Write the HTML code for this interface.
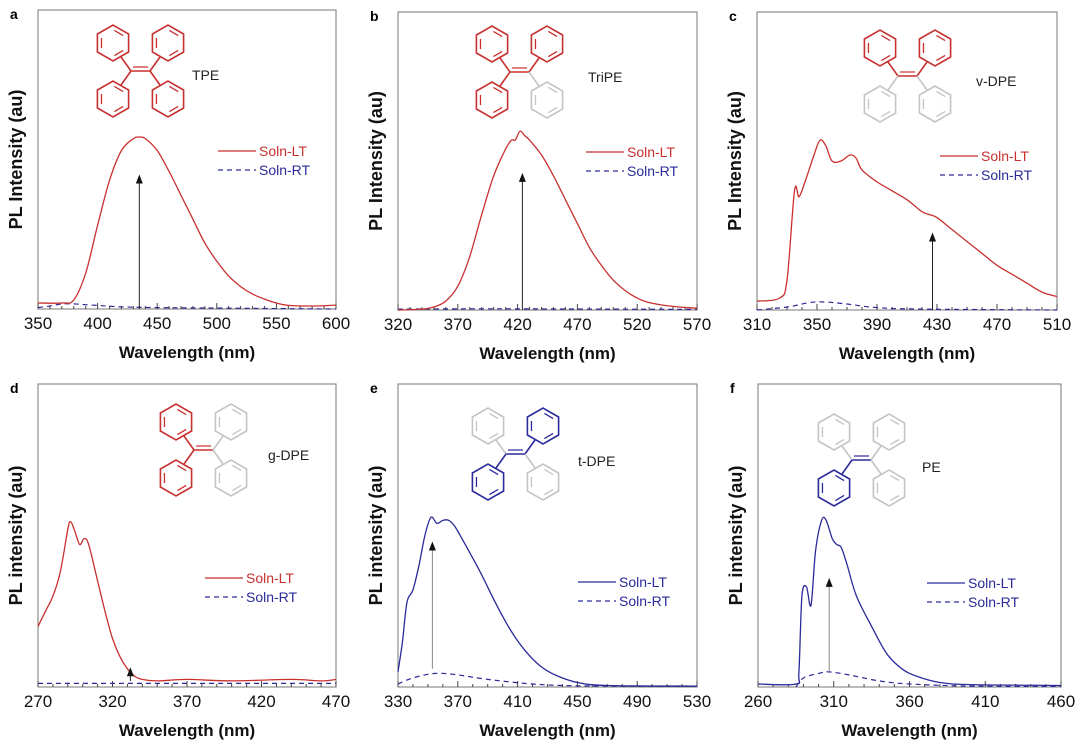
<!DOCTYPE html>
<html><head><meta charset="utf-8"><style>
html,body{margin:0;padding:0;background:#fff;}
svg{display:block;font-family:"Liberation Sans",sans-serif;}
</style></head><body>
<svg id="fig" width="1080" height="749" viewBox="0 0 1080 749"></svg>
<script>
// ---- data (x in nm, y as fraction of axis height) ----
const aLTx=[350,370,380,390,400,410,420,430,435,440,450,460,470,480,490,500,510,520,530,540,550,560,580,600];
const aLTy=[0.02,0.02,0.03,0.12,0.28,0.43,0.53,0.57,0.575,0.57,0.53,0.46,0.38,0.30,0.22,0.16,0.11,0.075,0.05,0.033,0.02,0.012,0.01,0.013];
const aRTx=[350,360,370,380,400,430,500,600];
const aRTy=[0.005,0.01,0.017,0.017,0.012,0.006,0.003,0.0];
const bLTx=[320,340,350,360,370,380,390,400,410,415,418,422,426,430,440,450,460,470,480,490,500,510,520,530,550,570];
const bLTy=[0.0,0.003,0.01,0.03,0.08,0.18,0.32,0.45,0.54,0.57,0.57,0.6,0.585,0.57,0.52,0.45,0.37,0.29,0.21,0.15,0.10,0.065,0.04,0.025,0.012,0.006];
const bRTx=[320,400,570];
const bRTy=[0.003,0.004,0.002];
const cLTx=[310,325,330,335,338,342,348,352,356,360,366,372,376,380,390,400,410,420,425,430,440,450,460,470,480,490,500,510];
const cLTy=[0.03,0.04,0.1,0.4,0.38,0.43,0.52,0.57,0.55,0.5,0.5,0.52,0.51,0.47,0.43,0.40,0.37,0.33,0.32,0.31,0.27,0.23,0.19,0.15,0.12,0.09,0.06,0.045];
const cRTx=[310,330,345,355,370,390,420,510];
const cRTy=[0.0,0.01,0.025,0.027,0.02,0.008,0.003,0.0];
const dLTx=[270,275,280,285,290,292,295,298,301,304,310,315,320,325,330,335,340,350,370,400,440,460,470];
const dLTy=[0.2,0.25,0.3,0.38,0.52,0.545,0.51,0.47,0.49,0.47,0.35,0.25,0.16,0.1,0.06,0.035,0.025,0.02,0.025,0.02,0.025,0.02,0.025];
const dRTx=[270,470];
const dRTy=[0.012,0.012];
const eLTx=[330,333,336,340,344,348,352,356,360,364,368,375,385,395,405,415,425,435,450,470,530];
const eLTy=[0.05,0.15,0.28,0.32,0.4,0.5,0.56,0.54,0.55,0.55,0.53,0.47,0.38,0.28,0.19,0.12,0.07,0.04,0.015,0.005,0.003];
const eRTx=[330,340,355,370,390,420,450,530];
const eRTy=[0.01,0.03,0.045,0.04,0.025,0.01,0.004,0.002];
const fLTx=[260,285,287,289,292,295,298,302,305,309,312,315,319,325,335,345,355,365,380,400,460];
const fLTy=[0.01,0.01,0.05,0.3,0.33,0.27,0.45,0.55,0.55,0.49,0.47,0.46,0.4,0.3,0.2,0.11,0.06,0.035,0.015,0.008,0.005];
const fRTx=[285,290,300,307,320,340,360,400,460];
const fRTy=[0.0,0.03,0.045,0.05,0.04,0.02,0.01,0.003,0.002];
const aTicks=[350,400,450,500,550,600];
const bTicks=[320,370,420,470,520,570];
const cTicks=[310,350,390,430,470,510];
const dTicks=[270,320,370,420,470];
const eTicks=[330,370,410,450,490,530];
const fTicks=[260,310,360,410,460];
const arrowX=[435,424,427,332,353,307];
const arrowFrom=[0,0,0,0.02,0.06,0.05];
const arrowTo=[0.45,0.46,0.26,0.065,0.48,0.36];

const NS="http://www.w3.org/2000/svg";
const svg=document.getElementById('fig');
function mk(tag,attrs,parent,txt){const e=document.createElementNS(NS,tag);for(const k in attrs)e.setAttribute(k,attrs[k]);if(txt!==undefined)e.textContent=txt;(parent||svg).appendChild(e);return e;}
const RED="#c8302f",BLUE="#2a2a9a",GRAY="#c4c4c4";
const panels=[
 {id:'a',L:38,R:336,T:10,B:309,min:350,max:600,ticks:aTicks,minor:10,LT:[aLTx,aLTy],RT:[aRTx,aRTy],lc:RED,yl:'PL Intensity (au)',leg:[218,151],mol:[95,25],cols:[RED,RED,RED,RED],name:'TPE',nx:192,ny:80},
 {id:'b',L:398,R:697,T:12,B:310,min:320,max:570,ticks:bTicks,minor:10,LT:[bLTx,bLTy],RT:[bRTx,bRTy],lc:RED,yl:'PL Intensity (au)',leg:[586,152],mol:[474,26],cols:[RED,RED,RED,GRAY],name:'TriPE',nx:588,ny:82},
 {id:'c',L:757,R:1057,T:12,B:310,min:310,max:510,ticks:cTicks,minor:10,LT:[cLTx,cLTy],RT:[cRTx,cRTy],lc:RED,yl:'PL Intensity (au)',leg:[940,156],mol:[862,30],cols:[RED,RED,GRAY,GRAY],name:'v-DPE',nx:976,ny:86},
 {id:'d',L:38,R:336,T:384,B:687,min:270,max:470,ticks:dTicks,minor:10,LT:[dLTx,dLTy],RT:[dRTx,dRTy],lc:RED,yl:'PL intensity (au)',leg:[205,578],mol:[158,404],cols:[RED,GRAY,RED,GRAY],name:'g-DPE',nx:268,ny:460},
 {id:'e',L:398,R:697,T:384,B:687,min:330,max:530,ticks:eTicks,minor:10,LT:[eLTx,eLTy],RT:[eRTx,eRTy],lc:BLUE,yl:'PL intensity (au)',leg:[578,582],mol:[470,408],cols:[GRAY,BLUE,BLUE,GRAY],name:'t-DPE',nx:578,ny:466},
 {id:'f',L:758,R:1061,T:384,B:687,min:260,max:460,ticks:fTicks,minor:10,LT:[fLTx,fLTy],RT:[fRTx,fRTy],lc:BLUE,yl:'PL intensity (au)',leg:[927,583],mol:[816,414],cols:[GRAY,GRAY,BLUE,GRAY],name:'PE',nx:922,ny:472}
];
function hex(g,cx,cy,r,col){let pts=[];for(let i=0;i<6;i++){const a=Math.PI/6+i*Math.PI/3;pts.push([cx+r*Math.cos(a),cy+r*Math.sin(a)]);}
 mk('polygon',{points:pts.map(q=>q[0].toFixed(1)+','+q[1].toFixed(1)).join(' '),fill:'none',stroke:col,'stroke-width':1.6},g);
 [0,2,4].forEach(k=>{const a=pts[k],b=pts[(k+1)%6];const f=0.74;
  const ax=cx+(a[0]-cx)*f,ay=cy+(a[1]-cy)*f,bx=cx+(b[0]-cx)*f,by=cy+(b[1]-cy)*f;
  mk('line',{x1:ax+(bx-ax)*0.12,y1:ay+(by-ay)*0.12,x2:ax+(bx-ax)*0.88,y2:ay+(by-ay)*0.88,stroke:col,'stroke-width':1.3},g);});}
function smooth(P){let d='M'+P[0][0].toFixed(1)+','+P[0][1].toFixed(1);
 for(let i=0;i<P.length-1;i++){const p0=P[i-1]||P[i],p1=P[i],p2=P[i+1],p3=P[i+2]||p2;
  const c1=[p1[0]+(p2[0]-p0[0])/6,p1[1]+(p2[1]-p0[1])/6],c2=[p2[0]-(p3[0]-p1[0])/6,p2[1]-(p3[1]-p1[1])/6];
  d+=' C'+c1[0].toFixed(1)+','+c1[1].toFixed(1)+' '+c2[0].toFixed(1)+','+c2[1].toFixed(1)+' '+p2[0].toFixed(1)+','+p2[1].toFixed(1);}
 return d;}
panels.forEach((p,i)=>{
 const g=mk('g',{});
 
 
 const sx=v=>p.L+(v-p.min)/(p.max-p.min)*(p.R-p.L);
 const sy=v=>p.B-v*(p.B-p.T);
 const lbl=mk('text',{x:p.L-28,y:p.T+9,'font-size':14,'font-weight':'bold'},g,p.id);
 
 const box=mk('rect',{x:p.L,y:p.T,width:p.R-p.L,height:p.B-p.T,fill:'none',stroke:'#777','stroke-width':1},g);
 
 for(let v=p.min;v<=p.max;v+=p.minor){const x=sx(v);const maj=p.ticks.indexOf(v)>=0;mk('line',{x1:x,x2:x,y1:p.B,y2:p.B-(maj?6:3),stroke:'#444','stroke-width':1},g);}
 p.ticks.forEach(v=>{const t=mk('text',{x:sx(v),y:p.B+20,'font-size':17,'text-anchor':'middle',fill:'#111'},g,String(v));
  });
 const xt=mk('text',{x:(p.L+p.R)/2,y:p.B+49,'font-size':17,'font-weight':'bold','text-anchor':'middle',fill:'#111'},g,'Wavelength (nm)');
 
 const cy=(p.T+p.B)/2;
 const yt=mk('text',{x:p.L-16,y:cy,'font-size':18,'font-weight':'bold','text-anchor':'middle',fill:'#111',transform:'rotate(-90 '+(p.L-16)+' '+cy+')'},g,p.yl);
 
 const path=(xs,ys)=>smooth(xs.map((x,k)=>[sx(x),sy(ys[k])]));
 const rt=mk('path',{d:path(p.RT[0],p.RT[1]),fill:'none',stroke:BLUE,'stroke-width':1.2,'stroke-dasharray':'5 4'},g);
 
 const lt=mk('path',{d:path(p.LT[0],p.LT[1]),fill:'none',stroke:p.lc,'stroke-width':1.3},g);
 
 const ax=sx(arrowX[i]),ay0=sy(arrowFrom[i]),ay1=sy(arrowTo[i]);
 const ar=mk('line',{x1:ax,x2:ax,y1:ay0,y2:ay1+8,stroke:i>=4?'#888':'#222','stroke-width':1},g);
 
 const ah=mk('polygon',{points:(ax-3.5)+','+(ay1+9)+' '+(ax+3.5)+','+(ay1+9)+' '+ax+','+ay1,fill:'#111'},g);
 
 const [lx,ly]=p.leg;
 const lg=mk('g',{},g);
 
 mk('line',{x1:lx,x2:lx+38,y1:ly,y2:ly,stroke:p.lc,'stroke-width':1.3},lg);
 mk('text',{x:lx+41,y:ly+5,'font-size':14,fill:p.lc},lg,'Soln-LT');
 mk('line',{x1:lx,x2:lx+38,y1:ly+19,y2:ly+19,stroke:BLUE,'stroke-width':1.2,'stroke-dasharray':'5 4'},lg);
 mk('text',{x:lx+41,y:ly+24,'font-size':14,fill:BLUE},lg,'Soln-RT');
 const mg=mk('g',{},g);
 
 const [mx,my]=p.mol,r=18;
 const cen=[[mx+18,my+18],[mx+73,my+18],[mx+18,my+74],[mx+73,my+74]];
 cen.forEach((c,k)=>hex(mg,c[0],c[1],r,p.cols[k]));
 const c1=[mx+36,my+46],c2=[mx+55,my+46];
 const dc=p.cols[0]===GRAY&&p.cols[1]===GRAY?p.cols[2]:(p.cols[0]===GRAY?p.cols[1]:p.cols[0]);
 mk('line',{x1:c1[0],y1:c1[1],x2:c2[0],y2:c2[1],stroke:dc,'stroke-width':1.6},mg);
 mk('line',{x1:c1[0]+2,y1:c1[1]-4,x2:c2[0]-2,y2:c2[1]-4,stroke:dc,'stroke-width':1.2},mg);
 [[c1,cen[0],0],[c2,cen[1],1],[c1,cen[2],2],[c2,cen[3],3]].forEach(([a,b,k])=>{
  mk('line',{x1:a[0],y1:a[1],x2:b[0]+(k%2?-8:8),y2:b[1]+(k<2?14:-14),stroke:p.cols[k],'stroke-width':1.6},mg);});
 const nm=mk('text',{x:p.nx,y:p.ny,'font-size':14,fill:'#222'},g,p.name);
 
});
</script>
</body></html>
